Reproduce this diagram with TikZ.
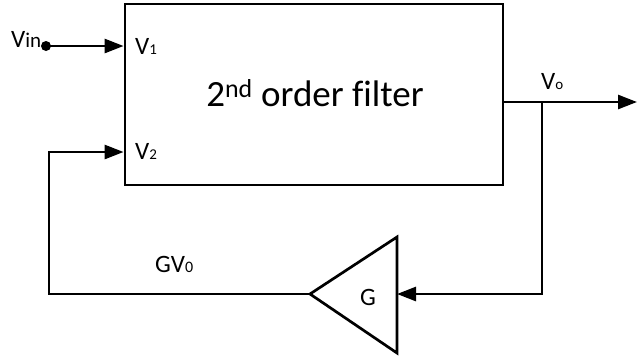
\documentclass[tikz,border=0pt]{standalone}
\usepackage{fontspec}
\setmainfont{Carlito}[Ligatures=NoCommon]
\usetikzlibrary{arrows.meta}
\newcommand{\sbs}[2]{{\fontsize{#1}{#1}\selectfont #2}}
\begin{document}
\begin{tikzpicture}[x=1pt,y=-1pt,
  wire/.style={line width=2.7pt},
  arr/.style={wire,-{Triangle[length=19pt,width=14pt]}},
  lbl/.style={font=\fontsize{25}{27}\selectfont,inner sep=0pt}]
\useasboundingbox (0,0) rectangle (637,360);
\node[draw,line width=2.8pt,minimum width=378pt,minimum height=181pt,inner sep=0pt] (box) at (314,94.5) {};
\node[font=\fontsize{37}{40}\selectfont,inner sep=0pt] (title) at (315,93) {2\textsuperscript{nd} order filter};
% input
\coordinate (vin) at (46,46);
\draw[arr] (vin) -- (vin -| box.west);
\node[lbl,anchor=base west] (vinl) at (11,47) {V\sbs{21}{in}};
\fill (vin) circle (5pt);
\node[lbl,anchor=base west] (v1) at (135,54) {V\sbs{15}{1}};
\node[lbl,anchor=base west] (v2) at (135,159) {V\sbs{15}{2}};
% output
\coordinate (o) at (box.east |- 0,102);
\coordinate (oend) at (637,102);
\coordinate (tap) at (542,102);
\coordinate (tapb) at (542,294);
\draw[arr] (o) -- (oend);
\node[lbl,anchor=base west] (vol) at (541,89) {V\sbs{15}{o}};
% amplifier
\coordinate (tip) at (310,294);
\coordinate (ampin) at (397,294);
\coordinate (ampt) at (397,237);
\coordinate (ampb) at (397,353);
\draw[wire,line join=miter] (ampt) -- (tip) -- (ampb) -- cycle;
\node[lbl,anchor=base] (g) at (368,305) {G};
\draw[arr] (tap) -- (tapb) -- (ampin);
% feedback
\coordinate (fbl) at (49,294);
\coordinate (fbt) at (49,152);
\draw[arr] (tip) -- (fbl) -- (fbt) -- (fbt -| box.west);
\node[lbl,anchor=base west] (gv) at (155,272) {GV\sbs{16}{0}};
\end{tikzpicture}
\end{document}
